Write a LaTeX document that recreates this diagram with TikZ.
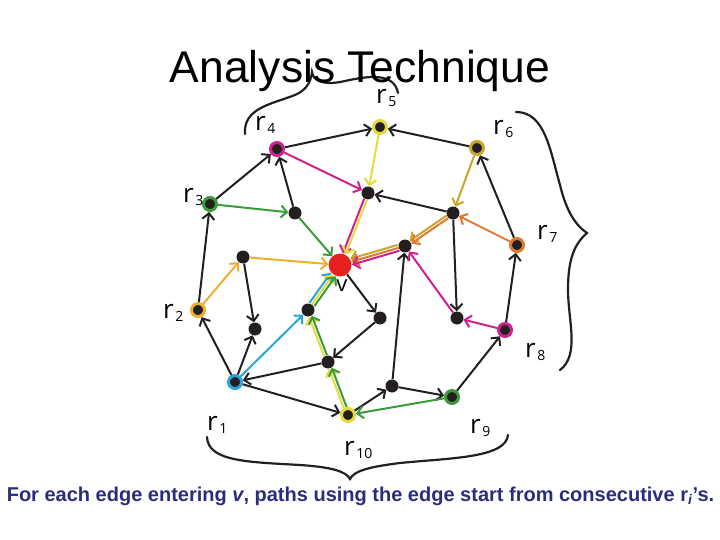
\documentclass[tikz,border=0pt]{standalone}
\usepackage{fontspec}
\setmainfont{Liberation Sans}
\newfontfamily\lblfont{Open Sans}
\usetikzlibrary{arrows.meta}
\definecolor{edgeblack}{HTML}{231F20}
\definecolor{vred}{HTML}{E82020}
\definecolor{pmagenta}{HTML}{D0208C}
\definecolor{pyellow}{HTML}{E6DA3A}
\definecolor{polive}{HTML}{C8A62A}
\definecolor{porange}{HTML}{E07830}
\definecolor{pgold}{HTML}{EFAE2E}
\definecolor{pgreen}{HTML}{3A9B3A}
\definecolor{pblue}{HTML}{27A6DE}
\definecolor{capnavy}{HTML}{2B2D7C}
\newcommand{\rlab}[1]{r\kern1.5pt\raisebox{-3pt}{\fontsize{14}{14}\selectfont #1}}

\begin{document}
\begin{tikzpicture}[
    x=1pt, y=-1pt,
    dot/.style={circle, fill=edgeblack, inner sep=0pt, minimum size=13pt},
    ring/.style={circle, fill=edgeblack, draw=#1, line width=3pt,
                 inner sep=0pt, outer sep=1.5pt, minimum size=13pt},
    src/.style={circle, fill=vred, inner sep=0pt, minimum size=23pt},
    rlabel/.style={anchor=base west, inner sep=0pt, text height=11pt, text depth=4pt,
                   font=\lblfont\fontsize{26}{26}\selectfont},
    >={Straight Barb[length=6pt,width=12pt]},
    link/.style={->, line width=2pt, draw=#1},
    link/.default=edgeblack,
    sh/.style={transform canvas={shift={#1}}},
    brace/.style={line width=2.2pt, draw=edgeblack, line cap=round},
  ]
  \useasboundingbox (0,0) rectangle (720,540);

  % ring of sources
  \node[ring=pblue]    (r1)  at (235,382) {};
  \node[ring=pgold]    (r2)  at (198,310) {};
  \node[ring=pgreen]   (r3)  at (210,204) {};
  \node[ring=pmagenta] (r4)  at (277,149) {};
  \node[ring=pyellow]  (r5)  at (380,127) {};
  \node[ring=polive]   (r6)  at (477,148) {};
  \node[ring=porange]  (r7)  at (517,245) {};
  \node[ring=pmagenta] (r8)  at (505,330) {};
  \node[ring=pgreen]   (r9)  at (452,397) {};
  \node[ring=pyellow]  (r10) at (348,415) {};

  % inner vertices
  \node[src] (v)   at (340,265) {};
  \node[dot] (u1)  at (368,193) {};
  \node[dot] (u2)  at (453,213) {};
  \node[dot] (u3)  at (295,213) {};
  \node[dot] (u4)  at (405,246) {};
  \node[dot] (u5)  at (243,257) {};
  \node[dot] (u6)  at (255,329) {};
  \node[dot] (u7)  at (308,310) {};
  \node[dot] (u8)  at (380,318) {};
  \node[dot] (u9)  at (457,318) {};
  \node[dot] (u10) at (328,362) {};
  \node[dot] (u11) at (392,386) {};

  % labels
  \node[rlabel] (l1)  at (207,430) {\rlab{1}};
  \node[rlabel] (l2)  at (163,318) {\rlab{2}};
  \node[rlabel] (l3)  at (183,203) {\rlab{3}};
  \node[rlabel] (l4)  at (255,131) {\rlab{4}};
  \node[rlabel] (l5)  at (376,104) {\rlab{5}};
  \node[rlabel] (l6)  at (493,135) {\rlab{6}};
  \node[rlabel] (l7)  at (537,240) {\rlab{7}};
  \node[rlabel] (l8)  at (525,357) {\rlab{8}};
  \node[rlabel] (l9)  at (470,433) {\rlab{9}};
  \node[rlabel] (l10) at (344,455) {\rlab{10}};
  \node[inner sep=0pt, font=\lblfont\fontsize{22}{22}\selectfont] (lv) at (342,286) {v};

  % black edges
  \draw[link] (r3) -- (r4);
  \draw[link] (u3) -- (r4);
  \draw[link] (r4) -- (r5);
  \draw[link] (r6) -- (r5);
  \draw[link] (r7) -- (r6);
  \draw[link] (r8) -- (r7);
  \draw[link] (r9) -- (r8);
  \draw[link] (u11) -- (r9);
  \draw[link] (r10) -- (u11);
  \draw[link] (r1) -- (r10);
  \draw[link] (u10) -- (r1);
  \draw[link] (r1) -- (r2);
  \draw[link] (r2) -- (r3);
  \draw[link] (r1) -- (u6);
  \draw[link] (u5) -- (u6);
  \draw[link] (v) -- (u8);
  \draw[link] (u8) -- (u10);
  \draw[link] (u2) -- (u1);
  \draw[link] (u2) -- (u9);
  \draw[link] (u11) -- (u4);

  % coloured paths
  \draw[link=pyellow]  (r5) -- (u1);
  \draw[link=pmagenta] (r4) -- (u1);
  \draw[link=polive]   (r6) -- (u2);
  \draw[link=porange]  (r7) -- (u2);
  \draw[link=pgreen]   (r3) -- (u3);
  \draw[link=pgreen]   (u3) -- (v);
  \draw[link=pgold]    (r2) -- (u5);
  \draw[link=pgold]    (u5) -- (v);
  \draw[link=pblue]    (r1) -- (u7);
  \draw[link=pmagenta] (r8) -- (u9);
  \draw[link=pmagenta] (u9) -- (u4);
  \draw[link=pgreen]   (r9) -- (r10);

  % bundles
  \draw[link=pmagenta, sh={(-1.4,-0.5)}] (u1) -- (v);
  \draw[link=pyellow,  sh={(1.4,0.5)}]   (u1) -- (v);
  \draw[link=polive,   sh={(-0.8,-1.3)}] (u2) -- (u4);
  \draw[link=porange,  sh={(0.8,1.3)}]   (u2) -- (u4);
  \draw[link=polive,   sh={(-0.9,-2.9)}] (u4) -- (v);
  \draw[link=porange]                    (u4) -- (v);
  \draw[link=pmagenta, sh={(0.9,2.9)}]   (u4) -- (v);
  \draw[link=pyellow,  sh={(-1.4,0.5)}]  (r10) -- (u10);
  \draw[link=pgreen,   sh={(1.4,-0.5)}]  (r10) -- (u10);
  \draw[link=pyellow,  sh={(-1.4,0.5)}]  (u10) -- (u7);
  \draw[link=pgreen,   sh={(1.4,-0.5)}]  (u10) -- (u7);
  \draw[link=pblue,    sh={(-2.4,-1.7)}] (u7) -- (v);
  \draw[link=pyellow]                    (u7) -- (v);
  \draw[link=pgreen,   sh={(2.4,1.7)}]   (u7) -- (v);

  % braces
  \draw[brace] (245,134) .. controls (243,108) and (272,104) .. (295,95)
    .. controls (307,90) and (311,81) .. (312,72)
    .. controls (313,81) and (324,86) .. (345,81)
    .. controls (368,76) and (394,72) .. (398,93);
  \draw[brace] (516,112) .. controls (545,112) and (550,150) .. (560,185)
    .. controls (566,210) and (575,225) .. (587,233)
    .. controls (573,245) and (568,262) .. (568,290)
    .. controls (568,320) and (580,355) .. (560,370);
  \draw[brace] (207,437) .. controls (208,462) and (250,462) .. (300,465)
    .. controls (330,467) and (346,471) .. (350,479)
    .. controls (354,471) and (368,467) .. (400,463)
    .. controls (450,458) and (506,458) .. (508,435);

  % title and caption
  \node[anchor=base, inner sep=0pt, text depth=0pt, font=\fontsize{44.4}{44.4}\selectfont]
    (title) at (360,83) {Analysis Technique};
  \node[anchor=base, inner sep=0pt, text=capnavy,
        font=\bfseries\fontsize{20}{20}\selectfont]
    (caption) at (360.5,501)
    {For each edge entering \textit{v}, paths using the edge start from consecutive r\textsubscript{\textit{i}}'s.};
\end{tikzpicture}
\end{document}
